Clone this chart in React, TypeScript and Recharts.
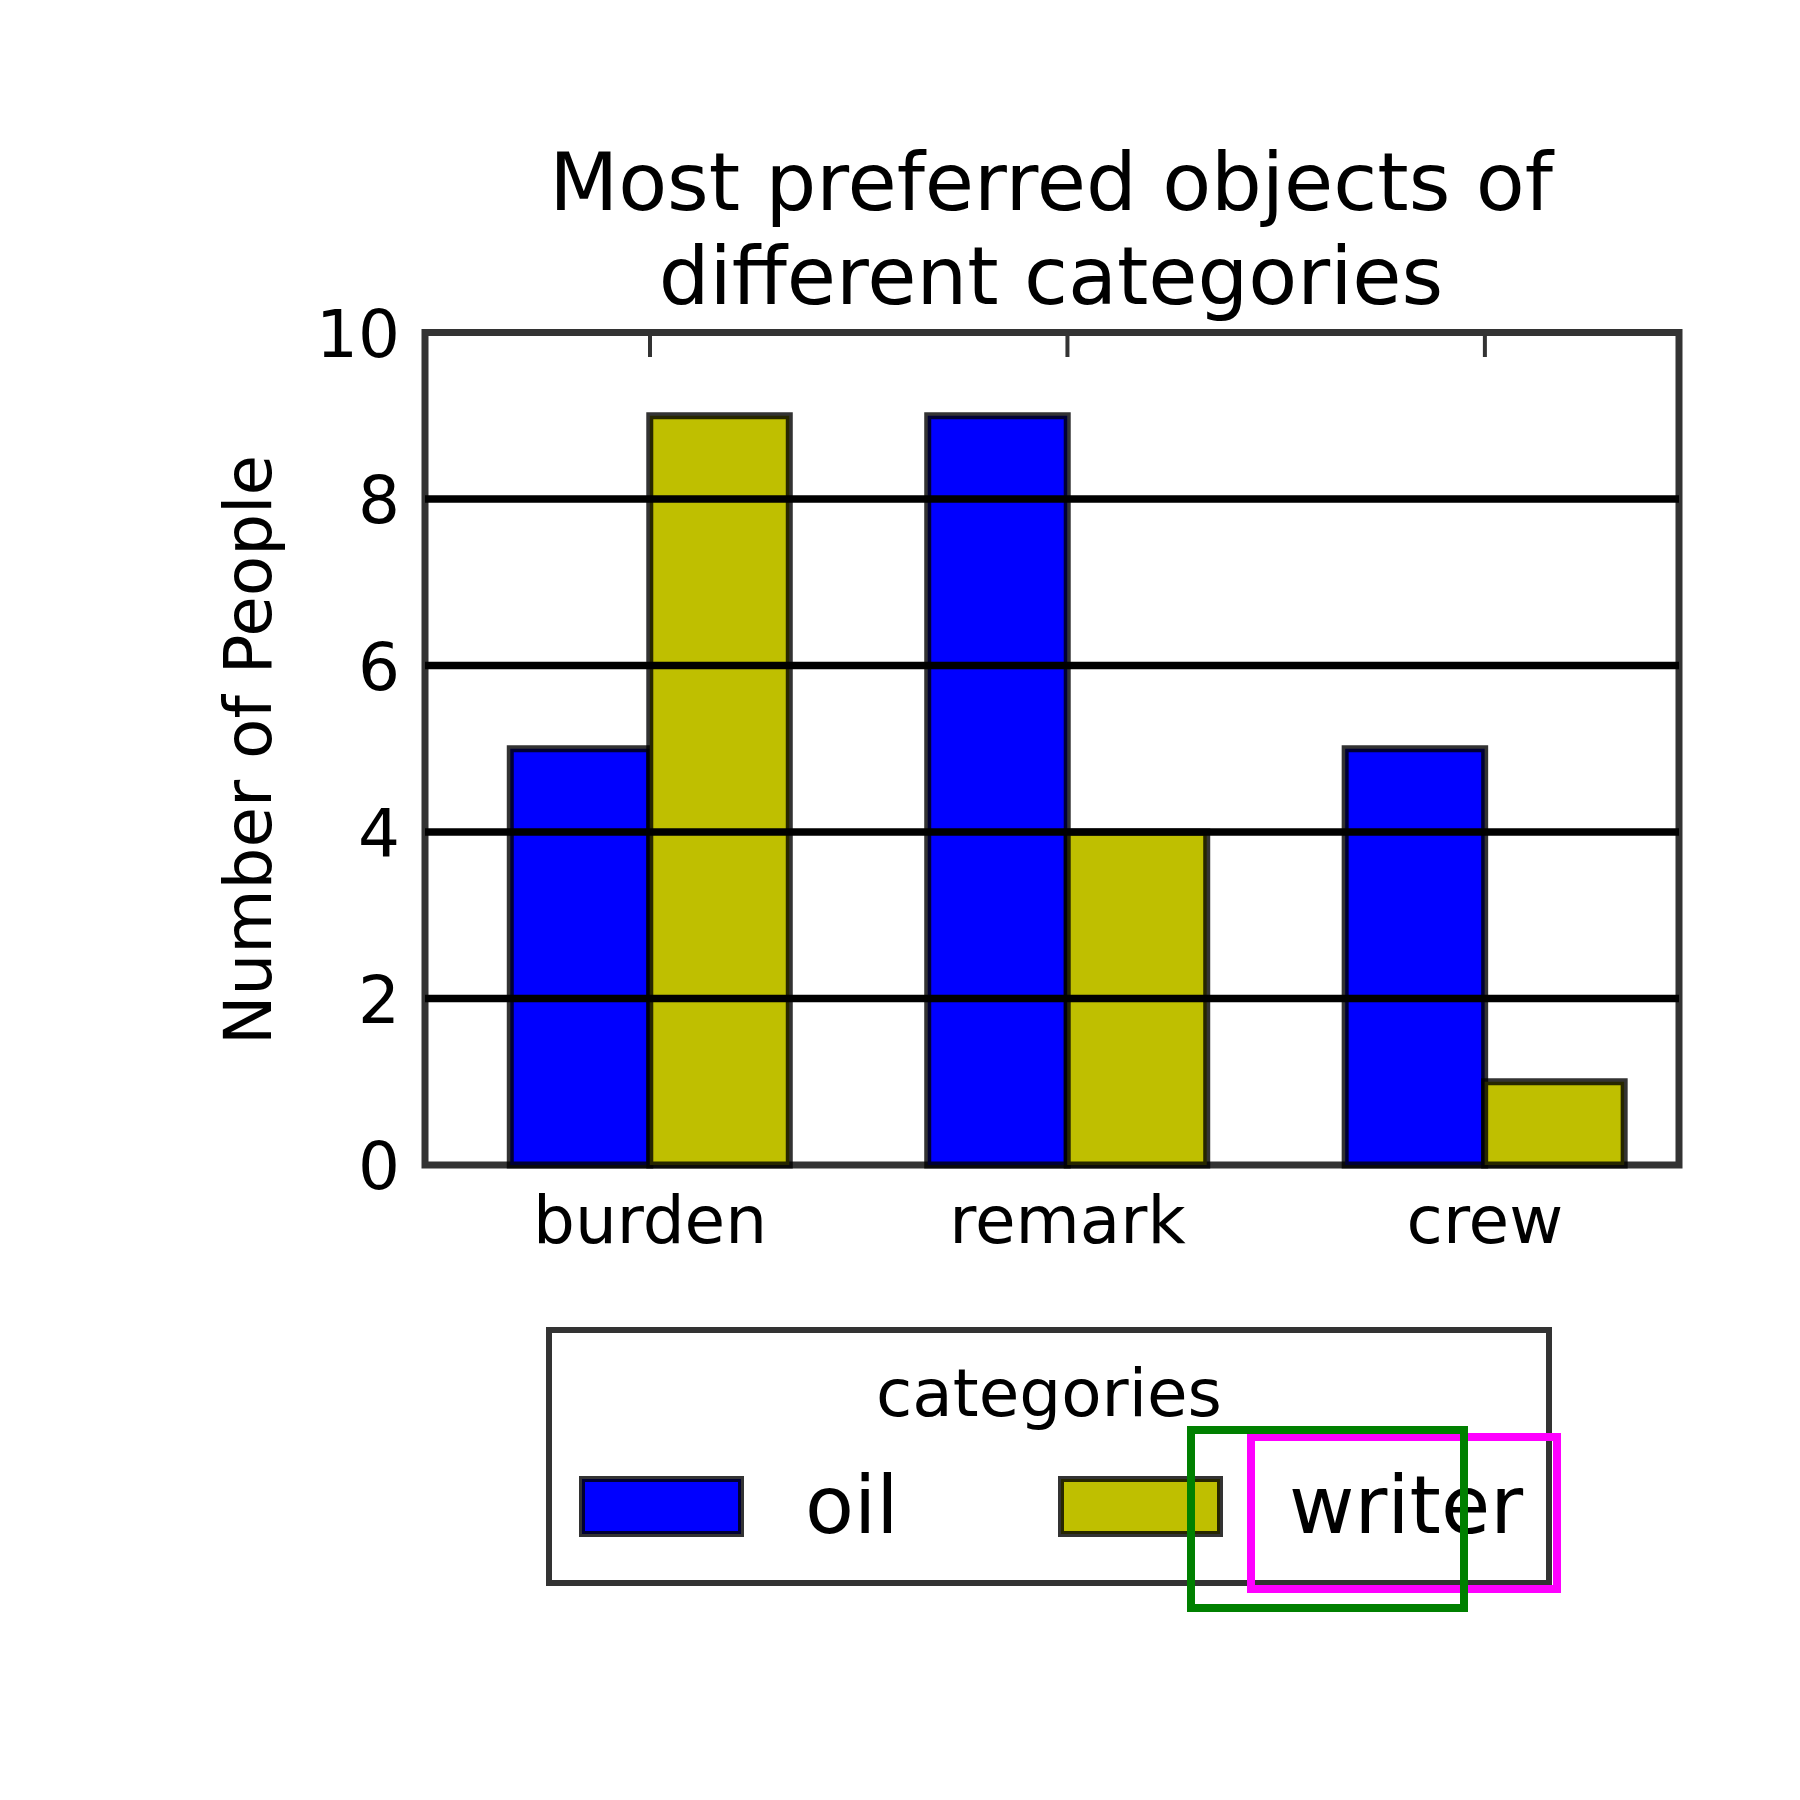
import React from "react"
import { BarChart, Bar, XAxis, YAxis, ReferenceLine, ReferenceArea } from "recharts"

const categories = ["burden", "remark", "crew"]
const oilValues = [5, 9, 5]
const writerValues = [9, 4, 1]
const yTicks = [0, 2, 4, 6, 8, 10]
const titleLines = ["Most preferred objects of", "different categories"]

const series = [
  { key: "oil", label: "oil", color: "#0000ff" },
  { key: "writer", label: "writer", color: "#bfbf00" },
]

const data = categories.map((name, i) => ({
  x: i,
  name,
  oil: oilValues[i],
  writer: writerValues[i],
}))

const FONT = "'DejaVu Sans', sans-serif"
const X_DOMAIN: [number, number] = [-0.539, 2.465]
const EDGE = "rgba(0,0,0,0.8)"

function XTick({ x, payload }: any) {
  return (
    <text x={x} y={1243} textAnchor="middle" fontSize={66} fontFamily={FONT} fill="#000">
      {categories[payload.value]}
    </text>
  )
}

// inward tick marks hanging from the top frame
function TopTick({ x }: any) {
  return <line x1={x} x2={x} y1={334} y2={357} stroke="#333" strokeWidth={4} />
}

function YTick({ y, payload }: any) {
  return (
    <text x={400} y={y + 24} textAnchor="end" fontSize={66} fontFamily={FONT} fill="#000">
      {payload.value}
    </text>
  )
}

function YLabel() {
  return (
    <text
      x={271}
      y={750}
      transform="rotate(-90, 271, 750)"
      textAnchor="middle"
      fontSize={66}
      fontFamily={FONT}
      fill="#000"
    >
      Number of People
    </text>
  )
}

function Overlay() {
  const patchX = [582, 1061]
  const textX = [805, 1289]
  return (
    <svg
      width={1800}
      height={1800}
      style={{ position: "absolute", left: 0, top: 0, pointerEvents: "none" }}
    >
      {titleLines.map((line, i) => (
        <text
          key={line}
          x={1051}
          y={210 + i * 94}
          textAnchor="middle"
          fontSize={80}
          fontFamily={FONT}
          fill="#000"
        >
          {line}
        </text>
      ))}
      {/* legend */}
      <rect x={549} y={1330} width={1000} height={253} fill="#fff" stroke="#333" strokeWidth={6} />
      <text x={1049} y={1416} textAnchor="middle" fontSize={66} fontFamily={FONT} fill="#000">
        categories
      </text>
      {series.map((s, i) => (
        <g key={s.key}>
          <rect x={patchX[i]} y={1479} width={159} height={55} fill={s.color} stroke={EDGE} strokeWidth={6} />
          <text x={textX[i]} y={1533} fontSize={80} fontFamily={FONT} fill="#000">
            {s.label}
          </text>
        </g>
      ))}
      <rect x={1251} y={1437} width={306} height={152} fill="none" stroke="#ff00ff" strokeWidth={8} />
      <rect x={1191} y={1430} width={273} height={178} fill="none" stroke="#008000" strokeWidth={8} />
    </svg>
  )
}

export default function App() {
  return (
    <div
      style={{
        position: "absolute",
        left: 0,
        top: 0,
        width: 1800,
        height: 1800,
        background: "#fff",
        fontFamily: FONT,
      }}
    >
      <BarChart
        width={1800}
        height={1800}
        data={data}
        margin={{ top: 302.5, right: 121, bottom: 535, left: 0 }}
        barGap={0}
      >
        <XAxis
          dataKey="x"
          type="number"
          domain={X_DOMAIN}
          allowDataOverflow
          ticks={[0, 1, 2]}
          tick={<XTick />}
          axisLine={false}
          tickLine={false}
          height={100}
        />
        <XAxis
          xAxisId="top"
          orientation="top"
          dataKey="x"
          type="number"
          domain={X_DOMAIN}
          allowDataOverflow
          ticks={[0, 1, 2]}
          tick={<TopTick />}
          axisLine={false}
          tickLine={false}
          height={30}
        />
        <YAxis
          type="number"
          domain={[0, 10]}
          ticks={yTicks}
          tick={<YTick />}
          axisLine={false}
          tickLine={false}
          width={425}
          label={<YLabel />}
        />
        {series.map((s) => (
          <Bar
            key={s.key}
            dataKey={s.key}
            fill={s.color}
            stroke={EDGE}
            strokeWidth={7}
            barSize={139.5}
            isAnimationActive={false}
          />
        ))}
        {yTicks
          .filter((t) => t > 0 && t < 10)
          .map((t) => (
            <ReferenceLine key={t} y={t} stroke="#000" strokeWidth={7.5} />
          ))}
        <ReferenceArea
          x1={X_DOMAIN[0]}
          x2={X_DOMAIN[1]}
          y1={0}
          y2={10}
          fill="none"
          fillOpacity={0}
          stroke="#333"
          strokeWidth={7}
        />
      </BarChart>
      <Overlay />
    </div>
  )
}
